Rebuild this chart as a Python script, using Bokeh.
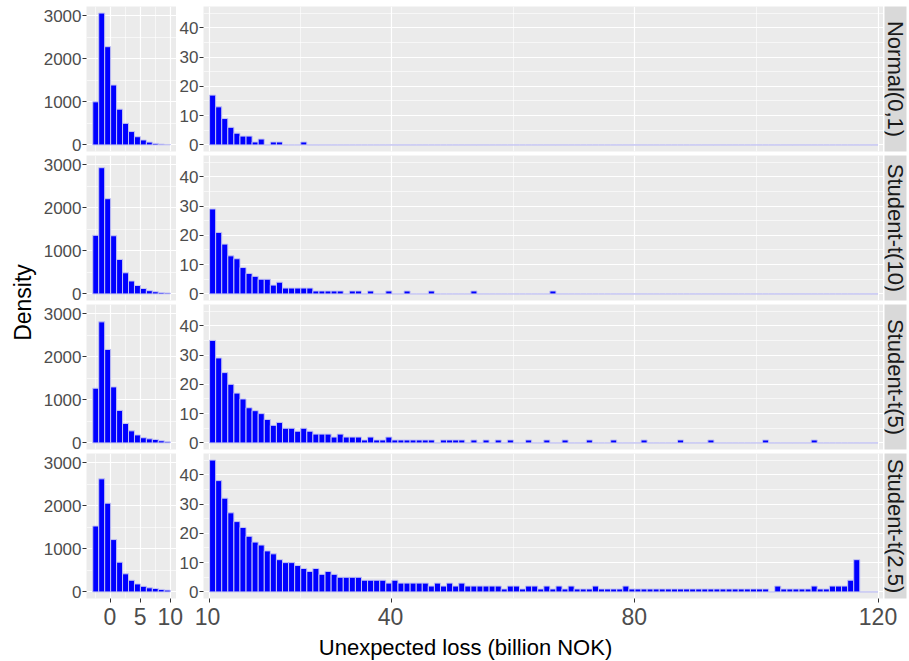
import math
from bokeh.plotting import figure
from bokeh.layouts import row, column
from bokeh.models import Range1d, FixedTicker, CustomJSTickFormatter
from bokeh.core.properties import value
from bokeh.embed import file_html
from bokeh.resources import INLINE

# ---------------- data (counts) ----------------
facets = ["Normal(0,1)", "Student-t(10)", "Student-t(5)", "Student-t(2.5)"]

left_bins = [-2.5, -1.5, -0.5, 0.5, 1.5, 2.5, 3.5, 4.5, 5.5, 6.5, 7.5, 8.5, 9.5]
right_bins = [b + 0.5 for b in range(10, 120)]

left_normal = [1000, 3060, 2280, 1390, 830, 500, 310, 190, 115, 65, 35, 18, 10]
left_t10 = [1360, 2930, 2210, 1350, 800, 490, 300, 195, 125, 75, 50, 32, 22]
left_t5 = [1270, 2810, 2170, 1300, 755, 450, 280, 185, 120, 95, 80, 50, 25]
left_t25 = [1530, 2625, 2060, 1215, 690, 420, 270, 185, 130, 95, 80, 58, 42]

right_normal = [17, 13, 9, 6, 4, 3, 3, 1, 2, 0, 1, 1, 0, 0, 0, 1] + [0] * 94
right_t10 = ([29, 21, 17, 13, 12, 9, 7, 6, 5, 5, 3, 4, 2, 2, 2, 2, 2, 1, 1, 1,
              1, 1, 0, 1, 1, 0, 1, 0, 0, 1, 0, 0, 1, 0, 0, 0, 1]
             + [0] * 6 + [1] + [0] * 12 + [1] + [0] * 53)
right_t5 = ([35, 29, 24, 20, 17, 15, 12, 11, 10, 8, 6, 7, 5, 5, 4, 5, 4, 3, 3, 3,
             2, 3, 2, 2, 2, 1, 2, 1, 1, 2, 1, 1, 1, 1, 1, 1, 1, 0, 1, 1,
             1, 1, 0, 1, 0, 1, 0, 1, 0, 1, 0, 0, 1, 0, 0, 1, 0, 0, 1, 0,
             0, 0, 1, 0, 0, 0, 1, 0, 0, 0, 0, 1, 0, 0, 0, 0, 0, 1, 0, 0,
             0, 0, 1, 0, 0, 0, 0, 0, 0, 0, 0, 1, 0, 0, 0, 0, 0, 0, 0, 1]
            + [0] * 10)
right_t25 = [45, 38, 32, 27, 24, 22, 19, 17, 16, 14, 13, 11, 10, 10, 9, 8, 7, 8, 6, 7,
             6, 5, 5, 5, 5, 4, 4, 4, 4, 3, 4, 3, 3, 3, 3, 3, 2, 3, 2, 3,
             2, 3, 2, 2, 2, 2, 2, 2, 1, 2, 2, 1, 2, 2, 1, 2, 1, 2, 1, 2,
             1, 1, 1, 2, 1, 1, 1, 1, 2, 1, 1, 1, 1, 1, 1, 1, 1, 1, 1, 1,
             1, 1, 1, 1, 1, 1, 1, 1, 1, 1, 1, 1, 0, 2, 1, 1, 1, 1, 1, 2,
             1, 1, 2, 2, 2, 4, 11, 0, 0, 0]

left_series = [left_normal, left_t10, left_t5, left_t25]
right_series = [right_normal, right_t10, right_t5, right_t25]

left_xticks = [0, 5, 10]
left_xminor = [-2.5, 2.5, 7.5]
right_xticks = [10, 40, 80, 120]
right_xminor = [25, 60, 100]
left_yticks = [0, 1000, 2000, 3000]
left_yminor = [500, 1500, 2500]
right_yticks = [0, 10, 20, 30, 40]
right_yminor = [5, 15, 25, 35, 45]

x_title = "Unexpected loss (billion NOK)"
y_title = "Density"

# ---------------- style / geometry ----------------
FONT = "Liberation Sans"
PANEL_BG = "#EBEBEB"
STRIP_BG = "#D9D9D9"
TICK_TXT = "#4D4D4D"
TICK_LINE = "#333333"

LEFT_XR = (-4.05, 11.05)
RIGHT_XR = (9.0, 120.9)
lmax = max(max(s) for s in left_series)
rmax = max(max(s) for s in right_series)
LEFT_YR = (-0.05 * lmax, 1.05 * lmax)
RIGHT_YR = (-0.05 * rmax, 1.05 * rmax)

DENS_W = 40
L_BORDER, L_FRAME = 45, 91
R_BORDER, R_FRAME = 25, 682
S_LEFT, S_FRAME, S_RIGHT = 1, 22, 3
FRAME_H = 145
tops = [6, 0, 0, 0]
bottoms = [4, 4, 4, 5]


def style_grid(p, xt, xm, yt, ym):
    p.xgrid.ticker = FixedTicker(ticks=xt, minor_ticks=xm)
    p.ygrid.ticker = FixedTicker(ticks=yt, minor_ticks=ym)
    for g in (p.xgrid, p.ygrid):
        g.grid_line_color = "white"
        g.grid_line_width = 1.2
        g.minor_grid_line_color = "white"
        g.minor_grid_line_width = 0.6


def style_yaxis(ax, ticks):
    ax.ticker = FixedTicker(ticks=ticks)
    ax.major_label_text_font = FONT
    ax.major_label_text_font_size = "17px"
    ax.major_label_text_color = TICK_TXT
    ax.major_tick_line_color = TICK_LINE
    ax.major_tick_line_width = 1
    ax.major_tick_out = 4
    ax.major_tick_in = 0
    ax.minor_tick_line_color = None
    ax.axis_line_color = None
    ax.major_label_standoff = 1


def panel(bins, counts, xr, yr, border_left, frame_w, top, bottom, xt, xm, yt, ym, last):
    p = figure(width=border_left + frame_w, height=top + FRAME_H + bottom,
               x_range=Range1d(*xr), y_range=Range1d(*yr),
               output_backend="svg", toolbar_location=None,
               x_axis_location="below" if last else None, y_axis_location="left",
               min_border_left=border_left, min_border_right=0,
               min_border_top=top, min_border_bottom=bottom)
    p.background_fill_color = PANEL_BG
    p.border_fill_color = "white"
    p.outline_line_color = None
    style_grid(p, xt, xm, yt, ym)
    style_yaxis(p.yaxis[0], yt)
    if last:
        # tick marks only; the tick labels live in the axis strip below
        ax = p.xaxis[0]
        ax.ticker = FixedTicker(ticks=xt)
        ax.formatter = CustomJSTickFormatter(code="return '';")
        ax.major_label_standoff = 0
        ax.major_tick_line_color = TICK_LINE
        ax.major_tick_out = 4
        ax.major_tick_in = 0
        ax.minor_tick_line_color = None
        ax.axis_line_color = None
    p.vbar(x=bins, top=counts, bottom=0, width=1.0,
           fill_color="#0000FF", line_color="#C4C4F2", line_width=1)
    return p


def strip(label, top, bottom):
    p = figure(width=S_LEFT + S_FRAME + S_RIGHT, height=top + FRAME_H + bottom,
               x_range=Range1d(0, 1), y_range=Range1d(0, 1),
               output_backend="svg", toolbar_location=None,
               x_axis_location=None, y_axis_location=None,
               min_border_left=S_LEFT, min_border_right=S_RIGHT,
               min_border_top=top, min_border_bottom=bottom)
    p.background_fill_color = STRIP_BG
    p.border_fill_color = "white"
    p.outline_line_color = None
    p.grid.visible = False
    p.text(x=[0.5], y=[0.5], text=[label], angle=-math.pi / 2,
           text_align="center", text_baseline="middle",
           text_font=value(FONT), text_font_size="22px", text_color="#1A1A1A")
    return p


def blank(w, h, xr, yr):
    p = figure(width=w, height=h, x_range=Range1d(*xr), y_range=Range1d(*yr),
               output_backend="svg", toolbar_location=None,
               x_axis_location=None, y_axis_location=None,
               min_border_left=0, min_border_right=0,
               min_border_top=0, min_border_bottom=0)
    p.background_fill_color = "white"
    p.border_fill_color = "white"
    p.outline_line_color = None
    p.grid.visible = False
    return p


left_figs, right_figs, strip_figs = [], [], []
for i in range(4):
    last = (i == 3)
    left_figs.append(panel(left_bins, left_series[i], LEFT_XR, LEFT_YR, L_BORDER, L_FRAME,
                           tops[i], bottoms[i], left_xticks, left_xminor, left_yticks,
                           left_yminor, last))
    right_figs.append(panel(right_bins, right_series[i], RIGHT_XR, RIGHT_YR, R_BORDER, R_FRAME,
                            tops[i], bottoms[i], right_xticks, right_xminor, right_yticks,
                            right_yminor, last))
    strip_figs.append(strip(facets[i], tops[i], bottoms[i]))

panels_h = sum(t + FRAME_H + b for t, b in zip(tops, bottoms))

# y title
dens = blank(DENS_W, panels_h, (0, DENS_W), (0, panels_h))
dens.text(x=[22], y=[panels_h - 302], text=[y_title], angle=math.pi / 2,
          text_align="center", text_baseline="middle",
          text_font=value(FONT), text_font_size="23px", text_color="black")

# bottom x tick labels (separate strips so labels are not clipped)
AXL_W = 190
AXR_W = 909 - AXL_W
AX_H = 29
l_x0 = DENS_W + L_BORDER
r_x0 = DENS_W + L_BORDER + L_FRAME + R_BORDER
kL = L_FRAME / (LEFT_XR[1] - LEFT_XR[0])
kR = R_FRAME / (RIGHT_XR[1] - RIGHT_XR[0])
axl_range = (LEFT_XR[0] - l_x0 / kL, LEFT_XR[0] + (AXL_W - l_x0) / kL)
axr_range = (RIGHT_XR[0] - (r_x0 - AXL_W) / kR, RIGHT_XR[0] + (909 - r_x0) / kR)


def axis_fig(w, xr, ticks):
    p = figure(width=w, height=AX_H, x_range=Range1d(*xr), y_range=Range1d(0, 1),
               output_backend="svg", toolbar_location=None,
               x_axis_location="below", y_axis_location=None,
               min_border_left=0, min_border_right=0,
               min_border_top=0, min_border_bottom=AX_H - 1)
    p.background_fill_color = "white"
    p.border_fill_color = "white"
    p.outline_line_color = None
    p.grid.visible = False
    ax = p.xaxis[0]
    ax.ticker = FixedTicker(ticks=ticks)
    ax.major_label_text_font = FONT
    ax.major_label_text_font_size = "23px"
    ax.major_label_text_color = TICK_TXT
    ax.major_tick_line_color = None
    ax.major_tick_out = 0
    ax.major_tick_in = 0
    ax.minor_tick_line_color = None
    ax.axis_line_color = None
    ax.major_label_standoff = 3
    return p


axl = axis_fig(AXL_W, axl_range, left_xticks)
axr = axis_fig(AXR_W, axr_range, right_xticks)

XT_H = 661 - panels_h - AX_H
xt_top = panels_h + AX_H
xt = blank(909, XT_H, (0, 909), (0, XT_H))
xt.text(x=[465], y=[XT_H - (647 - xt_top)], text=[x_title],
        text_align="center", text_baseline="middle",
        text_font=value(FONT), text_font_size="22px", text_color="black")

layout = column(
    row(dens, column(*left_figs), column(*right_figs), column(*strip_figs)),
    row(axl, axr),
    xt,
)

open("out.html", "w").write(file_html(layout, INLINE, title="Unexpected loss"))
